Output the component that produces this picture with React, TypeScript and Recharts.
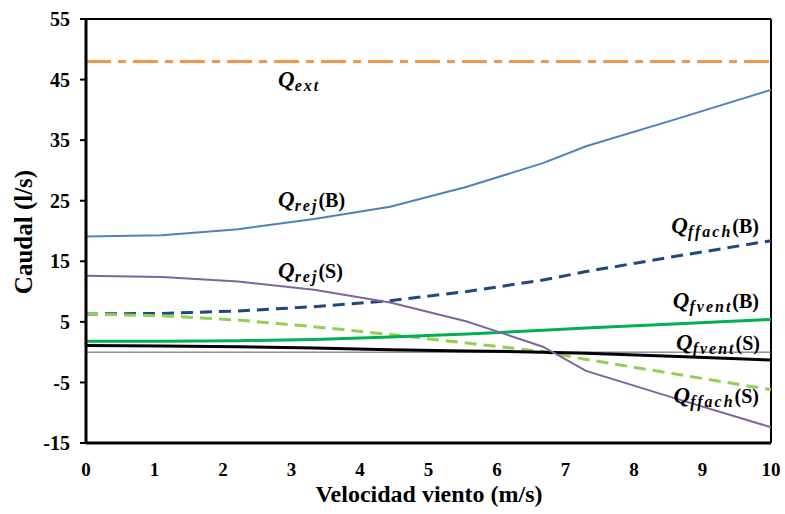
import { LineChart, Line, XAxis, YAxis, ReferenceLine } from 'recharts'

// wind speed (m/s)
const speed = [0, 1.11, 2.22, 3.33, 4.44, 5.56, 6.67, 7.3, 8.65, 10]

// flow rates (l/s)
const qExt = [48, 48, 48, 48, 48, 48, 48, 48, 48, 48]
const qRejB = [19.1, 19.3, 20.3, 22.0, 24.0, 27.3, 31.2, 34.0, 38.6, 43.3]
const qRejS = [12.6, 12.4, 11.65, 10.3, 8.2, 5.05, 0.9, -3.1, -7.8, -12.4]
const qFfachB = [6.3, 6.4, 6.8, 7.5, 8.5, 10.0, 11.9, 13.3, 15.9, 18.4]
const qFfachS = [6.3, 6.0, 5.3, 4.2, 2.9, 1.5, 0.1, -1.2, -3.7, -6.2]
const qFventB = [1.8, 1.8, 1.9, 2.1, 2.5, 3.0, 3.6, 4.0, 4.7, 5.4]
const qFventS = [1.1, 1.0, 0.9, 0.7, 0.4, 0.2, 0.0, -0.2, -0.7, -1.3]

const yTicks = [-15, -5, 5, 15, 25, 35, 45, 55]
const xTicks = [0, 1, 2, 3, 4, 5, 6, 7, 8, 9, 10]

const data = speed.map((v, i) => ({
  v,
  ext: qExt[i],
  rejB: qRejB[i],
  rejS: qRejS[i],
  ffachB: qFfachB[i],
  ffachS: qFfachS[i],
  fventB: qFventB[i],
  fventS: qFventS[i],
}))

const font = 'Liberation Serif'
const xTickStyle = { fontFamily: font, fontWeight: 700, fontSize: 19, fill: '#000' }
const yTickStyle = { fontFamily: font, fontWeight: 700, fontSize: 20, fill: '#000' }

function QLabel({ x, y, sub, tail, anchor = 'start' }: { x: number; y: number; sub: string; tail?: string; anchor?: 'start' | 'end' }) {
  return (
    <text x={x} y={y} textAnchor={anchor} style={{ fontFamily: font, fontWeight: 700 }} fill="#000">
      <tspan fontStyle="italic" fontSize={23}>Q</tspan>
      <tspan fontStyle="italic" fontSize={16} dy={4} letterSpacing={2}>{sub}</tspan>
      {tail && <tspan fontSize={20} dy={-4}>{tail}</tspan>}
    </text>
  )
}

export default function App() {
  return (
    <div style={{ position: 'absolute', left: 0, top: 0, width: 785, height: 514, background: '#fff' }}>
      <LineChart width={785} height={514} data={data} margin={{ top: 19, right: 14, bottom: 0, left: 0 }}>
        <XAxis
          dataKey="v"
          type="number"
          domain={[0, 10]}
          ticks={xTicks}
          tick={xTickStyle}
          tickLine={false}
          tickSize={0}
          tickMargin={20}
          height={71}
          axisLine={{ stroke: '#000', strokeWidth: 3 }}
        />
        <YAxis
          type="number"
          domain={[-15, 55]}
          ticks={yTicks}
          tick={yTickStyle}
          width={86}
          tickSize={6}
          tickMargin={10}
          tickLine={{ stroke: '#000', strokeWidth: 2 }}
          axisLine={{ stroke: '#000', strokeWidth: 3 }}
        />
        <ReferenceLine y={55} stroke="#000" strokeWidth={2} />
        <ReferenceLine x={10} stroke="#000" strokeWidth={2} />
        <ReferenceLine y={0} stroke="#595959" strokeWidth={1} />
        <Line dataKey="ext" type="linear" stroke="#F79646" strokeWidth={3} strokeDasharray="25 7 8 7" dot={false} isAnimationActive={false} />
        <Line dataKey="rejB" type="linear" stroke="#4F81BD" strokeWidth={2} dot={false} isAnimationActive={false} />
        <Line dataKey="ffachB" type="linear" stroke="#1F497D" strokeWidth={3} strokeDasharray="12 7" dot={false} isAnimationActive={false} />
        <Line dataKey="ffachS" type="linear" stroke="#92D050" strokeWidth={3} strokeDasharray="12 7" dot={false} isAnimationActive={false} />
        <Line dataKey="fventB" type="linear" stroke="#00B050" strokeWidth={3} dot={false} isAnimationActive={false} />
        <Line dataKey="fventS" type="linear" stroke="#000" strokeWidth={3} dot={false} isAnimationActive={false} />
        <Line dataKey="rejS" type="linear" stroke="#8064A2" strokeWidth={2} dot={false} isAnimationActive={false} />
      </LineChart>
      <svg width={785} height={514} style={{ position: 'absolute', left: 0, top: 0, pointerEvents: 'none' }}>
        <QLabel x={278} y={87} sub="ext" />
        <QLabel x={278} y={207} sub="rej" tail="(B)" />
        <QLabel x={278} y={278} sub="rej" tail="(S)" />
        <QLabel x={759} y={233} sub="ffach" tail="(B)" anchor="end" />
        <QLabel x={759} y={308} sub="fvent" tail="(B)" anchor="end" />
        <QLabel x={760} y={350} sub="fvent" tail="(S)" anchor="end" />
        <QLabel x={759} y={403} sub="ffach" tail="(S)" anchor="end" />
        <text x={32} y={232} transform="rotate(-90 32 232)" textAnchor="middle" style={{ fontFamily: font, fontWeight: 700, fontSize: 25 }}>
          Caudal (l/s)
        </text>
        <text x={429} y={502} textAnchor="middle" style={{ fontFamily: font, fontWeight: 700, fontSize: 24 }}>
          Velocidad viento (m/s)
        </text>
      </svg>
    </div>
  )
}
